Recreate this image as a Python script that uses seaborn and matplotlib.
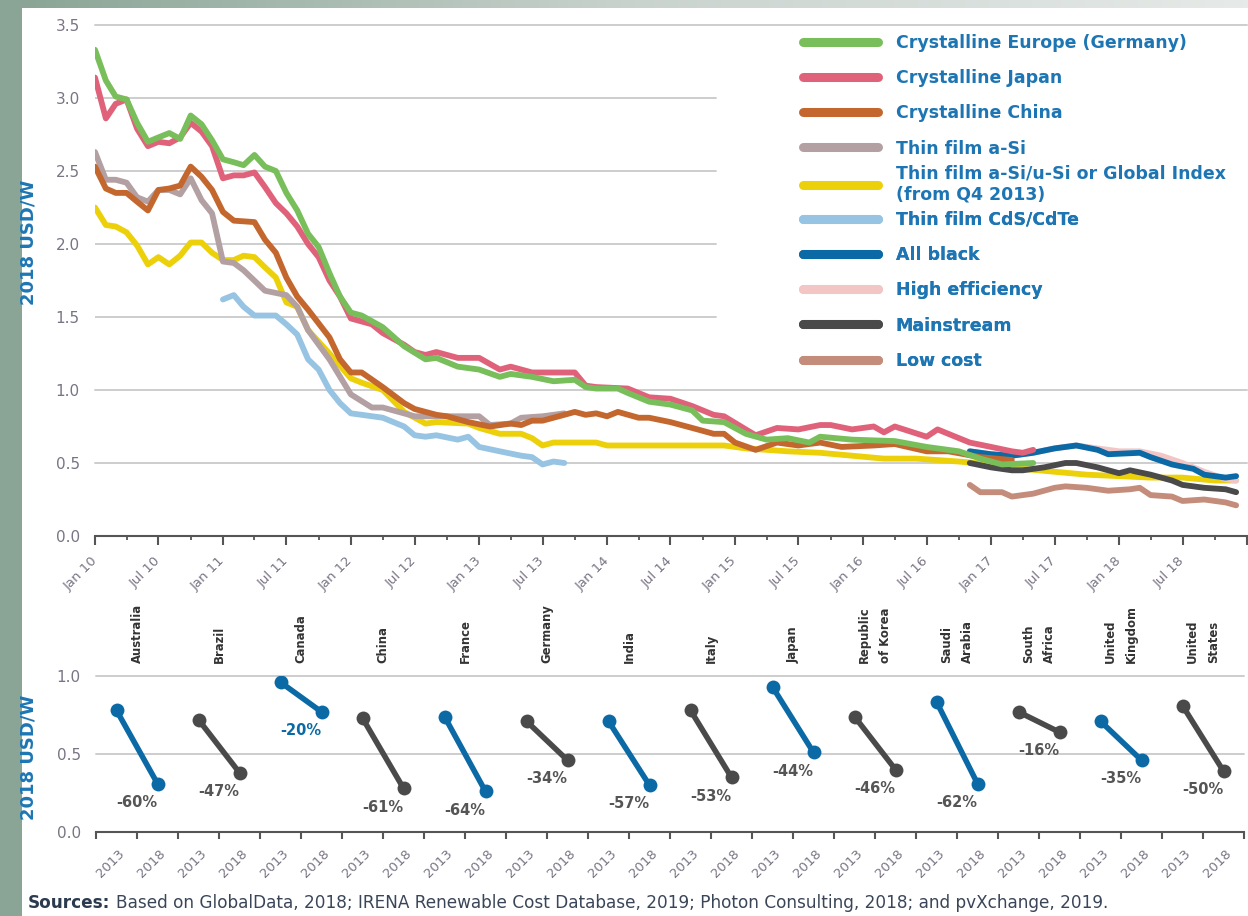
import numpy as np
import pandas as pd
import matplotlib
matplotlib.use("Agg")
import matplotlib.pyplot as plt
import matplotlib.dates as mdates
from matplotlib.lines import Line2D
from matplotlib.ticker import FormatStrFormatter, FixedLocator, FuncFormatter
from matplotlib.colors import LinearSegmentedColormap
import seaborn as sns

# ---------------- top panel data: month index (0 = Jan 2010), price in 2018 USD/W
europe_m = [0,1,2,3,4,5,6,7,8,9,10,11,12,13,14,15,16,17,18,19,20,21,22,23,24,25,27,29,31,32,34,36,38,39,41,43,45,46,47,49,50,52,54,56,57,59,61,63,65,67,68,71,75,78,81,83,85,88]
europe_v = [3.33,3.12,3.01,2.99,2.83,2.70,2.73,2.76,2.72,2.88,2.82,2.71,2.58,2.56,2.54,2.61,2.53,2.50,2.35,2.23,2.07,1.98,1.80,1.64,1.53,1.51,1.43,1.30,1.21,1.22,1.16,1.14,1.09,1.11,1.09,1.06,1.07,1.02,1.01,1.01,0.98,0.92,0.90,0.86,0.79,0.78,0.70,0.66,0.67,0.64,0.68,0.66,0.65,0.61,0.58,0.53,0.49,0.50]

japan_m = [0,1,2,3,4,5,6,7,8,9,10,11,12,13,14,15,16,17,18,19,20,21,22,23,24,26,27,29,30,31,32,34,36,38,39,41,43,45,46,47,50,52,54,56,58,59,61,62,64,66,68,69,71,73,74,75,78,79,82,84,86,87,88]
japan_v = [3.14,2.86,2.96,2.99,2.79,2.67,2.70,2.69,2.73,2.83,2.77,2.67,2.45,2.47,2.47,2.49,2.39,2.28,2.21,2.12,2.00,1.91,1.75,1.64,1.49,1.45,1.39,1.31,1.26,1.24,1.26,1.22,1.22,1.14,1.16,1.12,1.12,1.12,1.03,1.02,1.01,0.95,0.94,0.89,0.83,0.82,0.73,0.69,0.74,0.73,0.76,0.76,0.73,0.75,0.71,0.75,0.68,0.73,0.64,0.61,0.58,0.57,0.59]

china_m = [0,1,2,3,4,5,6,7,8,9,10,11,12,13,15,16,17,18,19,20,22,23,24,25,27,29,30,32,33,35,37,39,40,41,42,44,45,46,47,48,49,51,52,54,56,58,59,60,62,64,66,68,70,73,75,78,80,83,86]
china_v = [2.53,2.38,2.35,2.35,2.29,2.23,2.37,2.38,2.40,2.53,2.46,2.37,2.22,2.16,2.15,2.03,1.94,1.77,1.64,1.55,1.36,1.21,1.12,1.12,1.02,0.91,0.87,0.83,0.82,0.78,0.75,0.77,0.76,0.79,0.79,0.83,0.85,0.83,0.84,0.82,0.85,0.81,0.81,0.78,0.74,0.70,0.70,0.64,0.59,0.64,0.62,0.64,0.61,0.62,0.63,0.58,0.58,0.54,0.52]

asi_m = [0,1,2,3,4,5,6,7,8,9,10,11,12,13,14,16,18,19,20,22,24,26,27,30,31,33,36,37,39,40,42,44]
asi_v = [2.63,2.44,2.44,2.42,2.32,2.29,2.37,2.37,2.34,2.45,2.30,2.21,1.88,1.87,1.82,1.68,1.65,1.57,1.41,1.21,0.97,0.88,0.88,0.82,0.82,0.82,0.82,0.76,0.77,0.81,0.82,0.84]

global_m = [0,1,2,3,4,5,6,7,8,9,10,11,12,13,14,15,16,17,18,19,20,22,24,25,27,29,31,32,35,36,38,40,41,42,43,45,47,48,54,59,61,65,68,71,74,77,81,84,87,90,93,96,99,102,105,107]
global_v = [2.25,2.13,2.12,2.08,1.99,1.86,1.91,1.86,1.92,2.01,2.01,1.94,1.89,1.89,1.92,1.91,1.84,1.77,1.60,1.57,1.41,1.25,1.08,1.05,1.00,0.85,0.77,0.78,0.77,0.74,0.70,0.70,0.67,0.62,0.64,0.64,0.64,0.62,0.62,0.62,0.60,0.58,0.57,0.55,0.53,0.53,0.51,0.49,0.46,0.44,0.42,0.41,0.40,0.40,0.38,0.38]

cdte_m = [12,13,14,15,17,18,19,20,21,22,23,24,25,27,29,30,31,32,34,35,36,38,40,41,42,43,44]
cdte_v = [1.62,1.65,1.57,1.51,1.51,1.45,1.38,1.21,1.14,1.00,0.91,0.84,0.83,0.81,0.75,0.69,0.68,0.69,0.66,0.68,0.61,0.58,0.55,0.54,0.49,0.51,0.50]

allblack_m = [82,84,86,88,90,92,94,95,98,99,101,103,104,106,107]
allblack_v = [0.58,0.56,0.55,0.57,0.60,0.62,0.59,0.56,0.57,0.54,0.49,0.46,0.42,0.40,0.41]

higheff_m = [82,84,86,88,90,92,94,96,98,100,102,104,106,107]
higheff_v = [0.58,0.56,0.55,0.57,0.60,0.62,0.60,0.58,0.58,0.55,0.50,0.44,0.39,0.38]

mainstream_m = [82,84,86,87,89,91,92,94,96,97,99,101,102,104,106,107]
mainstream_v = [0.50,0.47,0.45,0.45,0.47,0.50,0.50,0.47,0.43,0.45,0.42,0.38,0.35,0.33,0.32,0.30]

lowcost_m = [82,83,85,86,88,90,91,93,95,97,98,99,101,102,104,106,107]
lowcost_v = [0.35,0.30,0.30,0.27,0.29,0.33,0.34,0.33,0.31,0.32,0.33,0.28,0.27,0.24,0.25,0.23,0.21]

series_names = ["Crystalline Europe (Germany)", "Crystalline Japan", "Crystalline China",
                "Thin film a-Si", "Thin film a-Si/u-Si or Global Index\n(from Q4 2013)",
                "Thin film CdS/CdTe", "All black", "High efficiency", "Mainstream", "Low cost"]
series_months = [europe_m, japan_m, china_m, asi_m, global_m, cdte_m, allblack_m, higheff_m, mainstream_m, lowcost_m]
series_values = [europe_v, japan_v, china_v, asi_v, global_v, cdte_v, allblack_v, higheff_v, mainstream_v, lowcost_v]

# ---------------- bottom panel data
countries = ["Australia", "Brazil", "Canada", "China", "France", "Germany", "India", "Italy", "Japan",
             "Republic\nof Korea", "Saudi\nArabia", "South\nAfrica", "United\nKingdom", "United\nStates"]
price_2013 = [0.78, 0.72, 0.96, 0.73, 0.74, 0.71, 0.71, 0.78, 0.93, 0.74, 0.835, 0.77, 0.71, 0.81]
price_2018 = [0.31, 0.38, 0.77, 0.28, 0.26, 0.46, 0.30, 0.35, 0.51, 0.40, 0.31, 0.64, 0.46, 0.39]
change_labels = ["-60%", "-47%", "-20%", "-61%", "-64%", "-34%", "-57%", "-53%", "-44%", "-46%", "-62%", "-16%", "-35%", "-50%"]
blue_group = ["Australia", "Canada", "France", "India", "Japan", "Saudi\nArabia", "United\nKingdom"]
year_labels = ["2013", "2018"]

# ---------------- style
colors = ["#78be5a", "#e0627a", "#c4672e", "#b3a0a3", "#ecd10a", "#97c4e3",
          "#0b6aa5", "#f3c6c6", "#4a4a4a", "#c48c7a"]
palette = dict(zip(series_names, colors))
draw_order = [series_names[i] for i in [4, 7, 6, 8, 9, 3, 5, 2, 1, 0]]
BLUE = "#0b6aa5"
DARK = "#4a4a4a"
TICKC = "#7a7485"
GRID = "#cdcdcd"
LABELBLUE = "#1d76b3"

sns.set_theme(style="white")
plt.rcParams["font.family"] = ["DejaVu Sans"]

W, H = 1248, 916
fig = plt.figure(figsize=(W / 100, H / 100), dpi=100)
fig.patch.set_facecolor("#8aa596")

def fx(px):
    return px / W

def fy(py):
    return 1 - py / H

fig.add_artist(plt.Rectangle((fx(22), 0), 1 - fx(22), fy(8), transform=fig.transFigure,
                             facecolor="white", edgecolor="none", zorder=-5))
ax_bg = fig.add_axes([fx(22), fy(8), 1 - fx(22), 8 / H], zorder=-4)
cmap = LinearSegmentedColormap.from_list("band", ["#8aa596", "#c9d3ce", "#e6eae8"])
ax_bg.imshow(np.linspace(0, 1, 256)[None, :], aspect="auto", cmap=cmap)
ax_bg.axis("off")

# ---------------- top panel
month_dates = pd.date_range("2010-01-01", periods=108, freq="MS")
frames = []
for name, ms, vs in zip(series_names, series_months, series_values):
    frames.append(pd.DataFrame({"date": month_dates[ms], "price": vs, "series": name}))
df = pd.concat(frames, ignore_index=True)

ax1 = fig.add_axes([fx(95), fy(536), (1247 - 95) / W, (536 - 25) / H])
ax1.set_facecolor("none")
sns.lineplot(data=df, x="date", y="price", hue="series", hue_order=draw_order, palette=palette,
             linewidth=4.2, legend=False, estimator=None, ax=ax1)
x_end = pd.Timestamp("2019-01-01")
ax1.set_xlim(pd.Timestamp("2010-01-01"), x_end)
ax1.set_ylim(0, 3.5)
for y in [3.5, 1.0, 0.5]:
    ax1.axhline(y, color=GRID, lw=1.4, zorder=0, clip_on=False)
for y in [3.0, 2.5, 2.0, 1.5]:
    ax1.axhline(y, xmax=0.539, color=GRID, lw=1.4, zorder=0)
ax1.set_yticks(np.arange(0, 3.51, 0.5))
ax1.yaxis.set_major_formatter(FormatStrFormatter("%.1f"))
ax1.xaxis.set_major_locator(mdates.MonthLocator(bymonth=[1, 7]))
ax1.xaxis.set_minor_locator(mdates.MonthLocator(bymonth=[4, 10]))
x_end_num = mdates.date2num(x_end)
ax1.xaxis.set_major_formatter(FuncFormatter(
    lambda v, p: "" if v >= x_end_num - 1 else mdates.num2date(v).strftime("%b %y")))
for s in ["top", "left", "right"]:
    ax1.spines[s].set_visible(False)
ax1.spines["bottom"].set_color("#555555")
ax1.spines["bottom"].set_linewidth(1.5)
ax1.tick_params(axis="y", length=0, labelsize=11, labelcolor=TICKC, pad=11)
ax1.tick_params(axis="x", which="major", direction="out", length=6.5, width=1.5, color="#555555",
                labelsize=9.5, labelcolor=TICKC, pad=10, bottom=True)
ax1.tick_params(axis="x", which="minor", direction="out", length=3, width=1.3, color="#555555", bottom=True)
plt.setp(ax1.get_xticklabels(), rotation=45, ha="right", va="center", rotation_mode="anchor")
ax1.set_xlabel("")
ax1.set_ylabel("2018 USD/W", color=LABELBLUE, fontweight="bold", fontsize=13)
ax1.yaxis.set_label_coords(-0.050, 0.575)

# legend in three blocks so the two-line entry keeps the regular row pitch
handles = [Line2D([0], [0], color=palette[n], lw=6.5) for n in series_names]
leg_kw = dict(bbox_transform=fig.transFigure, frameon=False, handlelength=4.3, handletextpad=1.04,
              labelspacing=0.99, borderpad=0, borderaxespad=0,
              prop={"weight": "bold", "size": 12.5}, labelcolor=LABELBLUE)
blocks = [(slice(0, 4), "upper left", 34), (slice(4, 5), "center left", 184), (slice(5, 10), "upper left", 211)]
for sl, loc, ypix in blocks:
    lg = ax1.legend(handles[sl], series_names[sl], loc=loc, bbox_to_anchor=(fx(803), fy(ypix)), **leg_kw)
    ax1.add_artist(lg)

# ---------------- bottom panel
rows = []
for i, (c, a, b) in enumerate(zip(countries, price_2013, price_2018)):
    rows.append({"pos": 2 * i, "price": a, "country": c})
    rows.append({"pos": 2 * i + 1, "price": b, "country": c})
df2 = pd.DataFrame(rows)
pal2 = {c: (BLUE if c in blue_group else DARK) for c in countries}

ax2 = fig.add_axes([fx(96), fy(832), 1148 / W, 156 / H])
ax2.set_facecolor("none")
sns.lineplot(data=df2, x="pos", y="price", hue="country", palette=pal2, marker="o", markersize=10,
             markeredgewidth=0, linewidth=4, legend=False, estimator=None, ax=ax2)
ax2.set_xlim(-0.5, 2 * len(countries) - 0.5)
ax2.set_ylim(0, 1.0)
for y in [1.0, 0.5]:
    ax2.axhline(y, color=GRID, lw=1.4, zorder=0, clip_on=False)
ax2.set_yticks([0, 0.5, 1.0])
ax2.yaxis.set_major_formatter(FormatStrFormatter("%.1f"))
ax2.xaxis.set_major_locator(FixedLocator(np.arange(-0.5, 2 * len(countries), 1)))
ax2.xaxis.set_minor_locator(FixedLocator(np.arange(2 * len(countries)) + 0.15))
ax2.set_xticklabels([])
ax2.set_xticklabels(year_labels * len(countries), minor=True)
for s in ["top", "left", "right"]:
    ax2.spines[s].set_visible(False)
ax2.spines["bottom"].set_color("#555555")
ax2.spines["bottom"].set_linewidth(1.5)
ax2.tick_params(axis="y", length=0, labelsize=11, labelcolor=TICKC, pad=11)
ax2.tick_params(axis="x", which="major", direction="out", length=5, width=1.5, color="#555555", bottom=True)
ax2.tick_params(axis="x", which="minor", length=0, labelsize=9.5, labelcolor=TICKC, pad=14, bottom=True)
plt.setp(ax2.get_xticklabels(minor=True), rotation=45, ha="right", va="center", rotation_mode="anchor")
ax2.set_xlabel("")
ax2.set_ylabel("2018 USD/W", color=LABELBLUE, fontweight="bold", fontsize=13)
ax2.yaxis.set_label_coords(-0.051, 0.48)

for i, (c, b, lab) in enumerate(zip(countries, price_2018, change_labels)):
    ax2.text(2 * i + 0.5, 1.085, c, rotation=90, rotation_mode="anchor", ha="left", va="center",
             multialignment="left", linespacing=1.8, fontsize=8.4, fontweight="bold",
             family=["Liberation Sans Narrow", "DejaVu Sans"], color="#333333", clip_on=False)
    ax2.text(2 * i + 0.5, b - 0.12, lab, ha="center", va="center", fontsize=10.5, fontweight="bold",
             color=(BLUE if c == "Canada" else "#555555"))

# ---------------- source line
t1 = fig.text(fx(28), fy(912), "Sources:", fontsize=12.2, fontweight="bold", color="#2b3a4f", va="bottom")
ax2.annotate("Based on GlobalData, 2018; IRENA Renewable Cost Database, 2019; Photon Consulting, 2018; and pvXchange, 2019.",
             xy=(1, 0), xycoords=t1, xytext=(4, 0), textcoords="offset points", va="bottom", ha="left",
             fontsize=12.2, color="#3a4658", annotation_clip=False)

fig.savefig("out.png", dpi=100, facecolor=fig.get_facecolor())
